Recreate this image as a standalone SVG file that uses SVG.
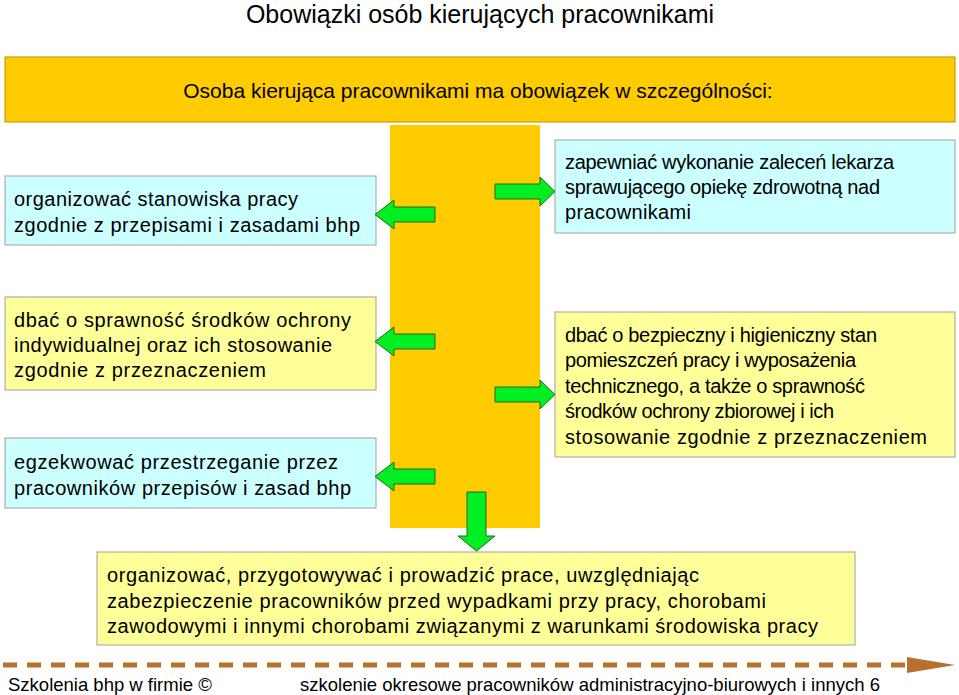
<svg xmlns="http://www.w3.org/2000/svg" width="959" height="695" viewBox="0 0 959 695">
<style>
text{font-family:"Liberation Sans",Arial,sans-serif;fill:#000}
.t{font-size:20px}
.cy{fill:#CCFFFF;stroke:#A0A0A0;stroke-width:1}
.ye{fill:#FFFF99;stroke:#A0A0A0;stroke-width:1}
.ar{fill:#00EE22;stroke:#226622;stroke-width:1}
</style>
<rect width="959" height="695" fill="#fff"/>
<text x="480" y="23" font-size="25" text-anchor="middle">Obowiązki osób kierujących pracownikami</text>
<g id="head"><rect x="5" y="57" width="950" height="65" fill="#FFCC00" stroke="#C09000"/><text x="478" y="98" font-size="21" text-anchor="middle">Osoba kierująca pracownikami ma obowiązek w szczególności:</text></g>
<g id="column"><rect x="390" y="125" width="150" height="403" fill="#FFCC00"/></g>
<g id="n1"><rect class="cy" x="5" y="176" width="371" height="69"/><text class="t" x="14" y="206" textLength="284">organizować stanowiska pracy</text><text class="t" x="14" y="232" textLength="346">zgodnie z przepisami i zasadami bhp</text></g>
<g id="n2"><rect class="cy" x="555" y="140" width="400" height="93"/><text class="t" x="565" y="169" textLength="329">zapewniać wykonanie zaleceń lekarza</text><text class="t" x="565" y="194" textLength="315">sprawującego opiekę zdrowotną nad</text><text class="t" x="565" y="219" textLength="126">pracownikami</text></g>
<g id="n3"><rect class="ye" x="5" y="297" width="371" height="93"/><text class="t" x="14" y="327" textLength="337">dbać o sprawność środków ochrony</text><text class="t" x="14" y="352" textLength="318">indywidualnej oraz ich stosowanie</text><text class="t" x="14" y="377" textLength="252">zgodnie z przeznaczeniem</text></g>
<g id="n4"><rect class="cy" x="5" y="438" width="371" height="70"/><text class="t" x="14" y="469" textLength="324">egzekwować przestrzeganie przez</text><text class="t" x="14" y="495" textLength="337">pracowników przepisów i zasad bhp</text></g>
<g id="n5"><rect class="ye" x="555" y="312" width="400" height="145"/><text class="t" x="565" y="342" textLength="312">dbać o bezpieczny i higieniczny stan</text><text class="t" x="565" y="367" textLength="291">pomieszczeń pracy i wyposażenia</text><text class="t" x="565" y="393" textLength="300">technicznego, a także o sprawność</text><text class="t" x="565" y="418" textLength="269">środków ochrony zbiorowej i ich</text><text class="t" x="565" y="444" textLength="362">stosowanie zgodnie z przeznaczeniem</text></g>
<g id="n6"><rect class="ye" x="97" y="552" width="758" height="93"/><text class="t" x="107" y="582" textLength="592">organizować, przygotowywać i prowadzić prace, uwzględniając</text><text class="t" x="107" y="608" textLength="659">zabezpieczenie pracowników przed wypadkami przy pracy, chorobami</text><text class="t" x="107" y="633" textLength="711">zawodowymi i innymi chorobami związanymi z warunkami środowiska pracy</text></g>
<g id="connectors">
<polygon class="ar" points="435,207 394,207 394,200 375,214.5 394,229 394,222 435,222"/>
<polygon class="ar" points="435,334 394,334 394,327 375,341.5 394,356 394,349 435,349"/>
<polygon class="ar" points="435,469 394,469 394,462 375,476.5 394,491 394,484 435,484"/>
<polygon class="ar" points="495,184 540,184 540,177 555,191.5 540,206 540,199 495,199"/>
<polygon class="ar" points="495,387 540,387 540,380 555,394.5 540,409 540,402 495,402"/>
<polygon class="ar" points="467,492 486,492 486,536 495,536 476.5,551 458,536 467,536"/>
</g>
<g id="footer">
<line x1="3" y1="665" x2="905" y2="665" stroke="#B8702E" stroke-width="5" stroke-dasharray="14,10"/>
<polygon points="907,657 955,665 907,673" fill="#B8702E"/>
<text x="8" y="691" font-size="18.5">Szkolenia bhp w firmie ©</text>
<text x="300" y="691" font-size="18.5">szkolenie okresowe pracowników administracyjno-biurowych i innych 6</text>
</g>
</svg>
